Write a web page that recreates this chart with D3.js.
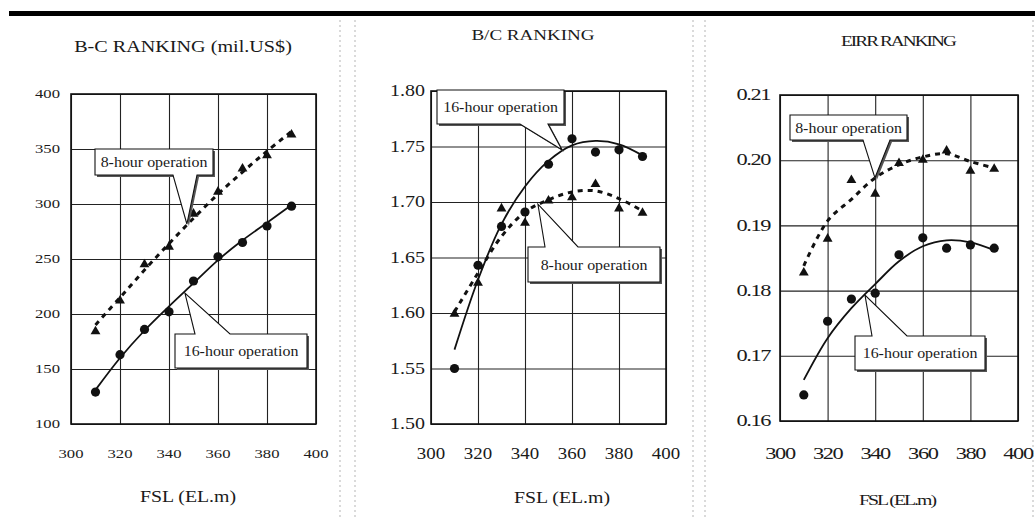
<!DOCTYPE html>
<html><head><meta charset="utf-8">
<script src="https://cdn.jsdelivr.net/npm/d3@7"></script>
<style>
html,body{margin:0;padding:0;background:#fff;}
svg{display:block;}
svg text{font-family:"Liberation Serif","Times New Roman",Times,"DejaVu Serif",serif;}
</style></head>
<body>
<svg id="c" width="1035" height="520"></svg>
<script>
// ---------- DATA ----------
const fsl = [310, 320, 330, 340, 350, 360, 370, 380, 390];
const xTicks = [300, 320, 340, 360, 380, 400];

// Panel 1: B-C ranking (mil.US$)
const bc8Points  = [185, 213, 246, 262, 292, 312, 333, 345, 364];
const bc16Points = [129, 163, 186, 202, 230, 252, 265, 280, 298];
const bc8Fit     = [190, 215, 240, 264, 287, 309, 329, 348, 366];
const bc16Fit    = [131, 160, 185, 207, 228, 249, 267, 283, 299];
const bcTicks    = [100, 150, 200, 250, 300, 350, 400];

// Panel 2: B/C ranking
const br8Points  = [1.600, 1.628, 1.695, 1.682, 1.702, 1.705, 1.717, 1.695, 1.691];
const br16Points = [1.550, 1.643, 1.678, 1.691, 1.734, 1.757, 1.745, 1.747, 1.741];
const br8Fit     = [1.601, 1.636, 1.669, 1.691, 1.702, 1.709, 1.710, 1.703, 1.692];
const br16Fit    = [1.567, 1.630, 1.680, 1.714, 1.737, 1.751, 1.755, 1.752, 1.742];
const brTicks    = [1.50, 1.55, 1.60, 1.65, 1.70, 1.75, 1.80];

// Panel 3: EIRR ranking
const ei8Points  = [0.1829, 0.1881, 0.1971, 0.1950, 0.1997, 0.2002, 0.2016, 0.1985, 0.1988];
const ei16Points = [0.1640, 0.1753, 0.1787, 0.1796, 0.1855, 0.1881, 0.1865, 0.1870, 0.1865];
const ei8Fit     = [0.1838, 0.1907, 0.1940, 0.1973, 0.1993, 0.2005, 0.2010, 0.1998, 0.1988];
const ei16Fit    = [0.1663, 0.1727, 0.1773, 0.1810, 0.1845, 0.1868, 0.1877, 0.1874, 0.1862];
const eiTicks    = [0.16, 0.17, 0.18, 0.19, 0.20, 0.21];

const titles = ["B-C RANKING (mil.US$)", "B/C RANKING", "EIRR RANKING"];
const xLabel = "FSL (EL.m)";
const label8 = "8-hour operation";
const label16 = "16-hour operation";

// ---------- LAYOUT ----------
const svg = d3.select("#c");

svg.append("rect").attr("x", 9).attr("y", 11).attr("width", 1026).attr("height", 5).attr("fill", "#000");
[340, 355, 693, 705, 1033].forEach(x => {
  svg.append("line").attr("x1", x).attr("x2", x).attr("y1", 20).attr("y2", 520)
    .attr("stroke", "#b5b5b5").attr("stroke-width", 1).attr("stroke-dasharray", "2,3");
});

const panels = [
  { xr: [71, 316], yr: [424, 94], ydom: [100, 400], yTicks: bcTicks, yfmt: d3.format("d"),
    p8: bc8Points, p16: bc16Points, f8: bc8Fit, f16: bc16Fit,
    title: { x: 183, y: 52, size: 16, sx: 1.26, ls: 0 },
    xlab: { x: 188, y: 502, size: 16, sx: 1.24, ls: 0 },
    yTick: { size: 13, sx: 1.28, ls: 0, right: 60 },
    xTick: { size: 13, sx: 1.28, ls: 0, y: 458 },
    c8: { box: { x: 95, y: 149, w: 118, h: 26 }, side: "bottom", base: [173, 197], tip: [347.3, 281.8] },
    c16: { box: { x: 175, y: 334, w: 132, h: 34 }, side: "top", base: [195, 230], tip: [346.5, 219] } },
  { xr: [431, 666], yr: [424, 91], ydom: [1.50, 1.80], yTicks: brTicks, yfmt: d3.format(".2f"),
    p8: br8Points, p16: br16Points, f8: br8Fit, f16: br16Fit,
    title: { x: 533, y: 40, size: 15, sx: 1.27, ls: 0 },
    xlab: { x: 562, y: 503, size: 16, sx: 1.24, ls: 0 },
    yTick: { size: 16, sx: 1.25, ls: 0, right: 425 },
    xTick: { size: 16, sx: 1.18, ls: 0, y: 459 },
    c16: { box: { x: 437, y: 90, w: 127, h: 34 }, side: "bottom", base: [520, 548], tip: [355.7, 1.747] },
    c8: { box: { x: 528, y: 247, w: 132, h: 35 }, side: "top", base: [545, 578], tip: [345.5, 1.698] } },
  { xr: [780, 1018], yr: [421, 95], ydom: [0.16, 0.21], yTicks: eiTicks, yfmt: d3.format(".2f"),
    p8: ei8Points, p16: ei16Points, f8: ei8Fit, f16: ei16Fit,
    title: { x: 898, y: 46, size: 15, sx: 1.28, ls: -1.5 },
    xlab: { x: 897, y: 505, size: 15, sx: 1.32, ls: -1.5 },
    yTick: { size: 16, sx: 1.4, ls: -1, right: 770 },
    xTick: { size: 16, sx: 1.4, ls: -1, y: 459 },
    c8: { box: { x: 790, y: 115, w: 117, h: 25 }, side: "bottom", base: [863, 890], tip: [339.9, 0.1973] },
    c16: { box: { x: 855, y: 336, w: 130, h: 34 }, side: "top", base: [872, 907], tip: [335.7, 0.1793] } }
];

function sText(parent, x, y, str, o, anchor) {
  return parent.append("text")
    .attr("transform", `translate(${x},${y}) scale(${o.sx},1)`)
    .attr("text-anchor", anchor || "middle")
    .attr("font-size", o.size)
    .attr("letter-spacing", o.ls || 0)
    .attr("fill", "#1a1a1a").text(str);
}

function callout(g, c, xs, ys, label) {
  const b = c.box, tx = xs(c.tip[0]), ty = ys(c.tip[1]);
  let d;
  if (c.side === "bottom") {
    d = `M${b.x},${b.y}H${b.x + b.w}V${b.y + b.h}H${c.base[1]}L${tx},${ty}L${c.base[0]},${b.y + b.h}H${b.x}Z`;
  } else {
    d = `M${b.x},${b.y}H${c.base[0]}L${tx},${ty}L${c.base[1]},${b.y}H${b.x + b.w}V${b.y + b.h}H${b.x}Z`;
  }
  g.append("path").attr("d", d).attr("transform", "translate(2,2)").attr("fill", "#555").attr("stroke", "none");
  g.append("path").attr("d", d).attr("fill", "#fff").attr("stroke", "#111").attr("stroke-width", 1.1)
    .attr("stroke-linejoin", "miter");
  sText(g, b.x + b.w / 2, b.y + b.h / 2 + 5, label, { size: 14, sx: 1.14 });
}

const triangle = d3.symbol().type(d3.symbolTriangle).size(42);

panels.forEach((p, i) => {
  const g = svg.append("g");
  const x = d3.scaleLinear().domain([300, 400]).range(p.xr);
  const y = d3.scaleLinear().domain(p.ydom).range(p.yr);
  const W = p.xr[1] - p.xr[0], H = p.yr[0] - p.yr[1];

  const gy = g.append("g").attr("transform", `translate(${p.xr[0]},0)`)
    .call(d3.axisLeft(y).tickValues(p.yTicks).tickSizeInner(-W).tickSizeOuter(0).tickFormat(""));
  gy.select(".domain").remove();
  gy.selectAll("line").attr("stroke", "#222").attr("stroke-width", 1.1);
  const gx = g.append("g").attr("transform", `translate(0,${p.yr[0]})`)
    .call(d3.axisBottom(x).tickValues(xTicks).tickSizeInner(-H).tickSizeOuter(0).tickFormat(""));
  gx.select(".domain").remove();
  gx.selectAll("line").attr("stroke", "#222").attr("stroke-width", 1.1);

  g.append("rect").attr("x", p.xr[0]).attr("y", p.yr[1]).attr("width", W).attr("height", H)
    .attr("fill", "none").attr("stroke", "#111").attr("stroke-width", 1.6);

  p.yTicks.forEach(v => sText(g, p.yTick.right, y(v) + p.yTick.size * 0.33, p.yfmt(v), p.yTick, "end"));
  xTicks.forEach(v => sText(g, x(v), p.xTick.y, d3.format("d")(v), p.xTick, "middle"));

  sText(g, p.title.x, p.title.y, titles[i], p.title);
  sText(g, p.xlab.x, p.xlab.y, xLabel, p.xlab);

  const line = d3.line().x((d, k) => x(fsl[k])).y(d => y(d)).curve(d3.curveCatmullRom.alpha(0.5));
  g.append("path").attr("d", line(p.f16)).attr("fill", "none").attr("stroke", "#111").attr("stroke-width", 1.8);
  g.append("path").attr("d", line(p.f8)).attr("fill", "none").attr("stroke", "#111").attr("stroke-width", 3)
    .attr("stroke-dasharray", "5,5");

  g.selectAll(".c16").data(p.p16).enter().append("circle")
    .attr("cx", (d, k) => x(fsl[k])).attr("cy", d => y(d)).attr("r", 4.6).attr("fill", "#111");
  g.selectAll(".t8").data(p.p8).enter().append("path")
    .attr("d", triangle).attr("transform", (d, k) => `translate(${x(fsl[k])},${y(d) + 1})`).attr("fill", "#111");

  callout(g, p.c8, x, y, label8);
  callout(g, p.c16, x, y, label16);
});
</script>
</body></html>
